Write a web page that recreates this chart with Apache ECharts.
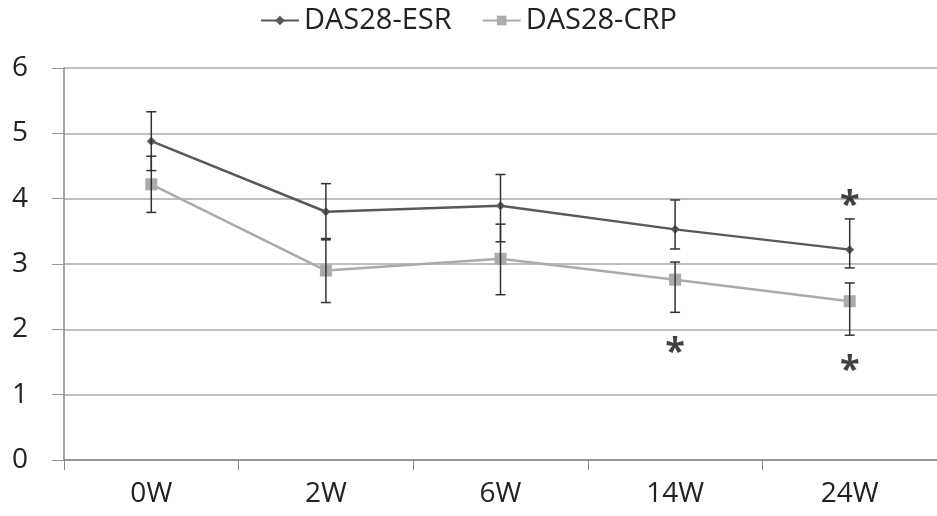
<!DOCTYPE html>
<html>
<head>
<meta charset="utf-8">
<script src="https://cdn.jsdelivr.net/npm/echarts@6/dist/echarts.min.js"></script>
<style>
  html, body { margin: 0; padding: 0; background: #fff; }
  #chart { width: 937px; height: 516px; }
</style>
</head>
<body>
<div id="chart"></div>
<script>
var weeks = ['0W', '2W', '6W', '14W', '24W'];
var esr = [4.88, 3.80, 3.89, 3.53, 3.22];
var esrHigh = [5.33, 4.23, 4.37, 3.98, 3.69];
var esrLow = [4.43, 3.37, 3.34, 3.23, 2.94];
var crp = [4.22, 2.90, 3.08, 2.76, 2.43];
var crpHigh = [4.65, 3.39, 3.61, 3.03, 2.71];
var crpLow = [3.79, 2.41, 2.53, 2.26, 1.91];
var starWeeks = ['14W', '24W', '24W'];
var starValues = [1.78, 4.03, 1.50];

function errorData(high, low) {
  return weeks.map(function (w, i) { return [i, low[i], high[i]]; });
}

// vertical error bar with small caps at both ends
function renderError(params, api) {
  var lo = api.coord([api.value(0), api.value(1)]);
  var hi = api.coord([api.value(0), api.value(2)]);
  var half = 5;
  var style = { stroke: '#333', lineWidth: 1.5 };
  return {
    type: 'group',
    children: [
      { type: 'line', shape: { x1: hi[0], y1: hi[1], x2: lo[0], y2: lo[1] }, style: style },
      { type: 'line', shape: { x1: hi[0] - half, y1: hi[1], x2: hi[0] + half, y2: hi[1] }, style: style },
      { type: 'line', shape: { x1: lo[0] - half, y1: lo[1], x2: lo[0] + half, y2: lo[1] }, style: style }
    ]
  };
}

var dom = document.getElementById('chart');
var myChart = echarts.init(dom);
var option = {
  backgroundColor: '#fff',
  animation: false,
  textStyle: { fontFamily: 'Open Sans' },
  legend: {
    top: 1,
    left: 'center',
    itemWidth: 38,
    itemHeight: 12,
    itemGap: 30,
    textStyle: { fontSize: 29, color: '#222', fontFamily: 'Open Sans' },
    data: ['DAS28-ESR', 'DAS28-CRP']
  },
  grid: { left: 64, top: 68, width: 876, height: 392 },
  xAxis: {
    type: 'category',
    data: weeks,
    boundaryGap: true,
    axisLine: { lineStyle: { color: '#888', width: 1.5 } },
    axisTick: { show: true, length: 10, lineStyle: { color: '#888' } },
    axisLabel: { fontSize: 28, color: '#222', margin: 20 }
  },
  yAxis: {
    type: 'value',
    min: 0,
    max: 6,
    interval: 1,
    axisLine: { show: true, lineStyle: { color: '#888', width: 1.5 } },
    axisTick: { show: true, length: 12, lineStyle: { color: '#999' } },
    axisLabel: { fontSize: 28, color: '#222', margin: 44, align: 'center' },
    splitLine: { lineStyle: { color: '#aaa', width: 1.5 } }
  },
  series: [
    {
      name: 'DAS28-ESR',
      type: 'line',
      data: esr,
      symbol: 'diamond',
      symbolSize: 9,
      z: 3,
      itemStyle: { color: '#595959' },
      lineStyle: { color: '#595959', width: 2.5 }
    },
    {
      name: 'DAS28-CRP',
      type: 'line',
      data: crp,
      symbol: 'rect',
      symbolSize: 12,
      z: 3,
      itemStyle: { color: '#ababab' },
      lineStyle: { color: '#ababab', width: 2.5 }
    },
    {
      type: 'custom',
      renderItem: renderError,
      data: errorData(esrHigh, esrLow),
      encode: { x: 0, y: [1, 2] },
      z: 4
    },
    {
      type: 'custom',
      renderItem: renderError,
      data: errorData(crpHigh, crpLow),
      encode: { x: 0, y: [1, 2] },
      z: 4
    },
    {
      type: 'scatter',
      data: starWeeks.map(function (w, i) { return [w, starValues[i]]; }),
      symbolSize: 1,
      itemStyle: { color: 'rgba(0,0,0,0)' },
      label: {
        show: true,
        position: 'inside',
        formatter: '*',
        fontSize: 36,
        fontWeight: 'bold',
        color: '#111',
        offset: [0, 9]
      }
    }
  ]
};
myChart.setOption(option, true);
</script>
</body>
</html>
